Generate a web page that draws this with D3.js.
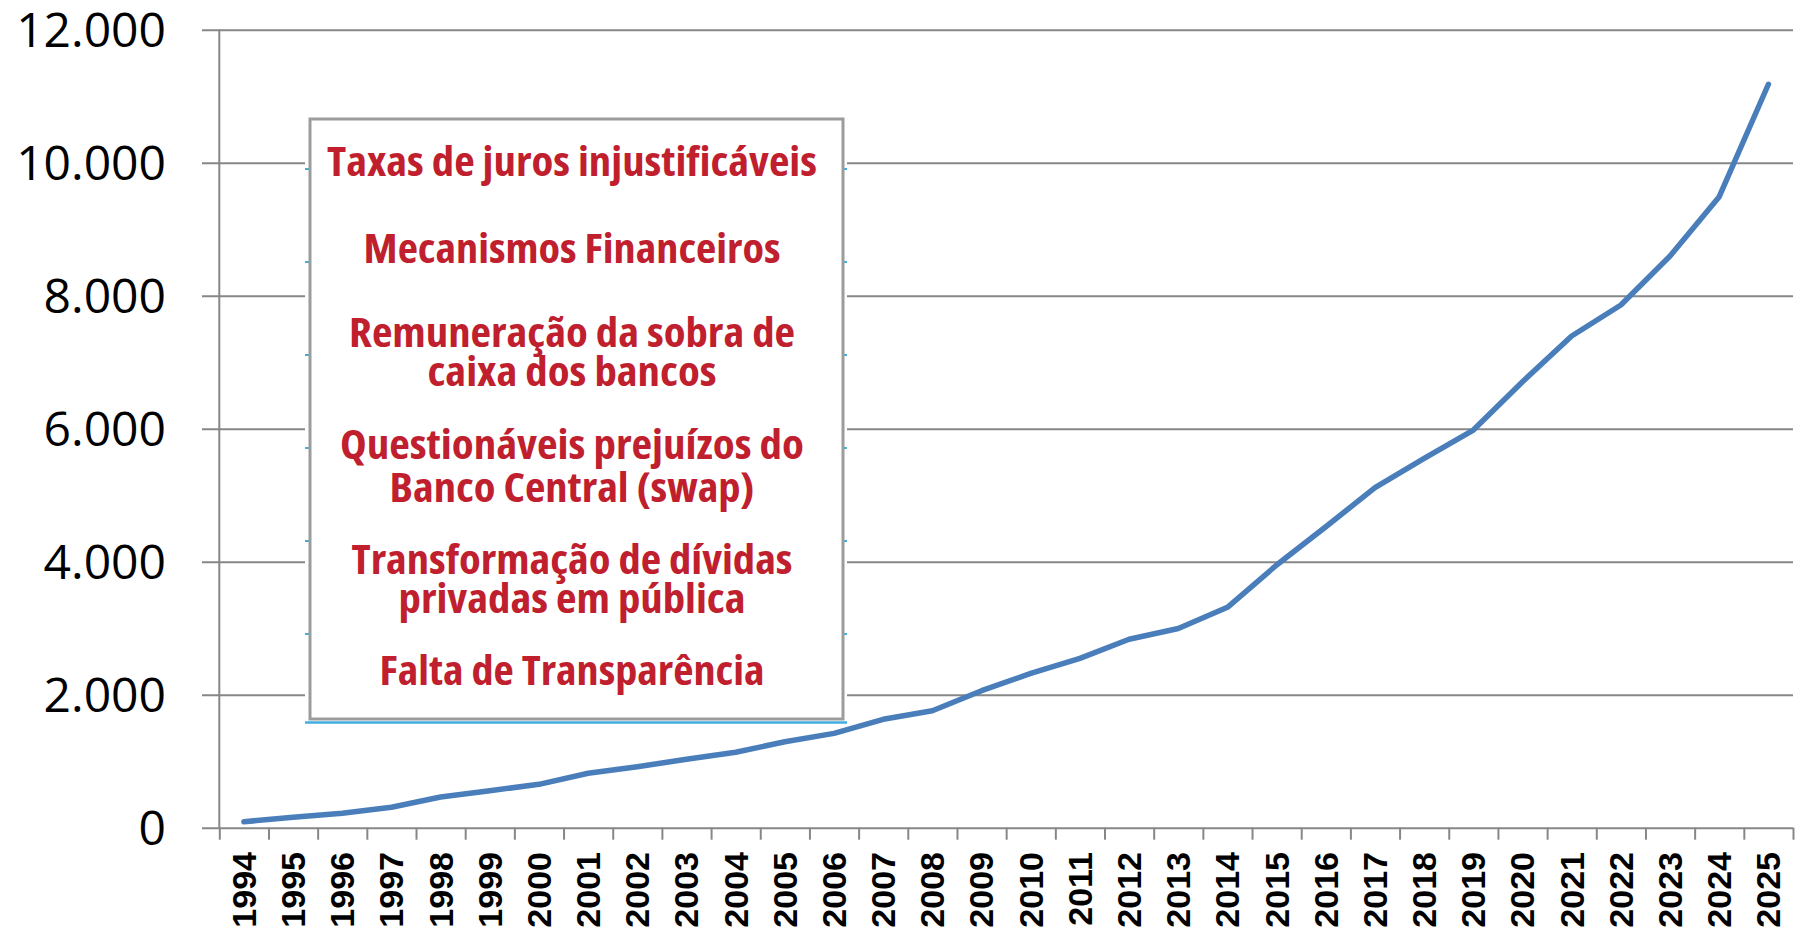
<!DOCTYPE html>
<html lang="pt">
<head>
    <meta charset="UTF-8">
    <title>Dívida</title>
    <script src="https://d3js.org/d3.v7.min.js"></script>
    <style>
        body { margin: 0; background: #fff; }
        .ylab text { font-family: 'Open Sans', sans-serif; font-size: 48px; fill: #000; }
        .xlab { font-family: 'Liberation Sans', Arial, sans-serif; font-size: 34px; font-weight: bold; fill: #000; }
        .boxtxt { font-family: 'Open Sans', sans-serif; font-weight: 700; font-stretch: condensed; font-size: 41px; fill: #c0202e; }
    </style>
</head>
<body>
<script>

    const width  = 1800;
    const height = 933;

    const years = ['1994','1995','1996','1997','1998','1999','2000','2001','2002','2003','2004',
                   '2005','2006','2007','2008','2009','2010','2011','2012','2013','2014','2015',
                   '2016','2017','2018','2019','2020','2021','2022','2023','2024','2025'];

    const values = [90, 156, 216, 307, 462, 556, 652, 818, 917, 1028, 1134,
                    1293, 1419, 1630, 1759, 2060, 2321, 2547, 2833, 2995, 3314, 3950,
                    4526, 5113, 5555, 5980, 6707, 7394, 7860, 8597, 9489, 11180];

    const yTicks = [0, 2000, 4000, 6000, 8000, 10000, 12000];

    const boxLines = [
        'Taxas de juros injustificáveis',
        'Mecanismos Financeiros',
        'Remuneração da sobra de',
        'caixa dos bancos',
        'Questionáveis prejuízos do',
        'Banco Central (swap)',
        'Transformação de dívidas',
        'privadas em pública',
        'Falta de Transparência'
    ];

    // layout of the text panel (baseline, width of each line)
    const boxBaselines = [176, 263, 347, 386, 459, 502, 574, 613, 685];
    const boxWidths    = [490, 417, 446, 289, 464, 365, 441, 347, 385];

    const plotL = 219.3, plotR = 1793, plotT = 29.7, plotB = 827.7;

    const ptBR = d3.formatLocale({decimal: ',', thousands: '.', grouping: [3], currency: ['R$', '']});

    const x = d3.scaleBand().domain(years).range([plotL, plotR]).padding(0);
    const xEdge = d3.scaleLinear().domain([0, years.length]).range([plotL, plotR]);
    const y = d3.scaleLinear().domain([0, 12000]).range([plotB, plotT]);

    const svg = d3.select('body').append('svg')
        .attr('width', width)
        .attr('height', height);

    // gridlines + y labels
    const gy = svg.append('g')
        .attr('class', 'ylab')
        .attr('transform', 'translate(' + plotR + ',0)')
        .call(d3.axisLeft(y)
            .tickValues(yTicks)
            .tickSize(plotR - 202)
            .tickPadding(36)
            .tickFormat(ptBR.format(',')));
    gy.select('.domain').remove();
    gy.selectAll('line').attr('stroke', '#878787').attr('stroke-width', 2);
    gy.selectAll('text').attr('dy', '0.36em');

    // vertical axis line
    svg.append('line')
        .attr('x1', plotL).attr('x2', plotL)
        .attr('y1', y(12000)).attr('y2', y(0))
        .attr('stroke', '#878787').attr('stroke-width', 2);

    // tick marks at category edges
    const gx = svg.append('g')
        .attr('transform', 'translate(0,' + plotB + ')')
        .call(d3.axisBottom(xEdge)
            .tickValues(d3.range(years.length + 1))
            .tickSize(12)
            .tickFormat(''));
    gx.select('.domain').remove();
    gx.selectAll('line').attr('stroke', '#878787').attr('stroke-width', 2);

    // year labels
    svg.append('g').selectAll('text')
        .data(years)
        .join('text')
        .attr('class', 'xlab')
        .attr('transform', d => 'translate(' + (x(d) + x.bandwidth() / 2) + ',852) rotate(-90)')
        .attr('text-anchor', 'end')
        .attr('dy', '0.35em')
        .text(d => d);

    // text panel
    const panel = svg.append('g');
    panel.append('rect')
        .attr('x', 305).attr('y', 114)
        .attr('width', 542).attr('height', 608)
        .attr('fill', '#fff');
    panel.append('line')
        .attr('x1', 305).attr('x2', 847)
        .attr('y1', 722.5).attr('y2', 722.5)
        .attr('stroke', '#41aee0').attr('stroke-width', 2.5);
    [169, 262, 355, 448, 541, 634].forEach(ty => {
        panel.append('line').attr('x1', 305).attr('x2', 309).attr('y1', ty).attr('y2', ty)
            .attr('stroke', '#41aee0').attr('stroke-width', 2);
        panel.append('line').attr('x1', 843).attr('x2', 847).attr('y1', ty).attr('y2', ty)
            .attr('stroke', '#41aee0').attr('stroke-width', 2);
    });
    panel.append('rect')
        .attr('x', 310).attr('y', 119)
        .attr('width', 533).attr('height', 600)
        .attr('fill', '#fff')
        .attr('stroke', '#9c9c9c').attr('stroke-width', 3);

    panel.selectAll('.boxtxt')
        .data(boxLines)
        .join('text')
        .attr('class', 'boxtxt')
        .attr('x', 572)
        .attr('y', (d, i) => boxBaselines[i])
        .attr('text-anchor', 'middle')
        .attr('textLength', (d, i) => boxWidths[i])
        .attr('lengthAdjust', 'spacingAndGlyphs')
        .text(d => d);

    // series
    const line = d3.line()
        .x((d, i) => x(years[i]) + x.bandwidth() / 2)
        .y(d => y(d));

    svg.append('path')
        .datum(values)
        .attr('d', line)
        .attr('fill', 'none')
        .attr('stroke', '#4a7ebb')
        .attr('stroke-width', 5.5)
        .attr('stroke-linejoin', 'round')
        .attr('stroke-linecap', 'round');

</script>
</body>
</html>
